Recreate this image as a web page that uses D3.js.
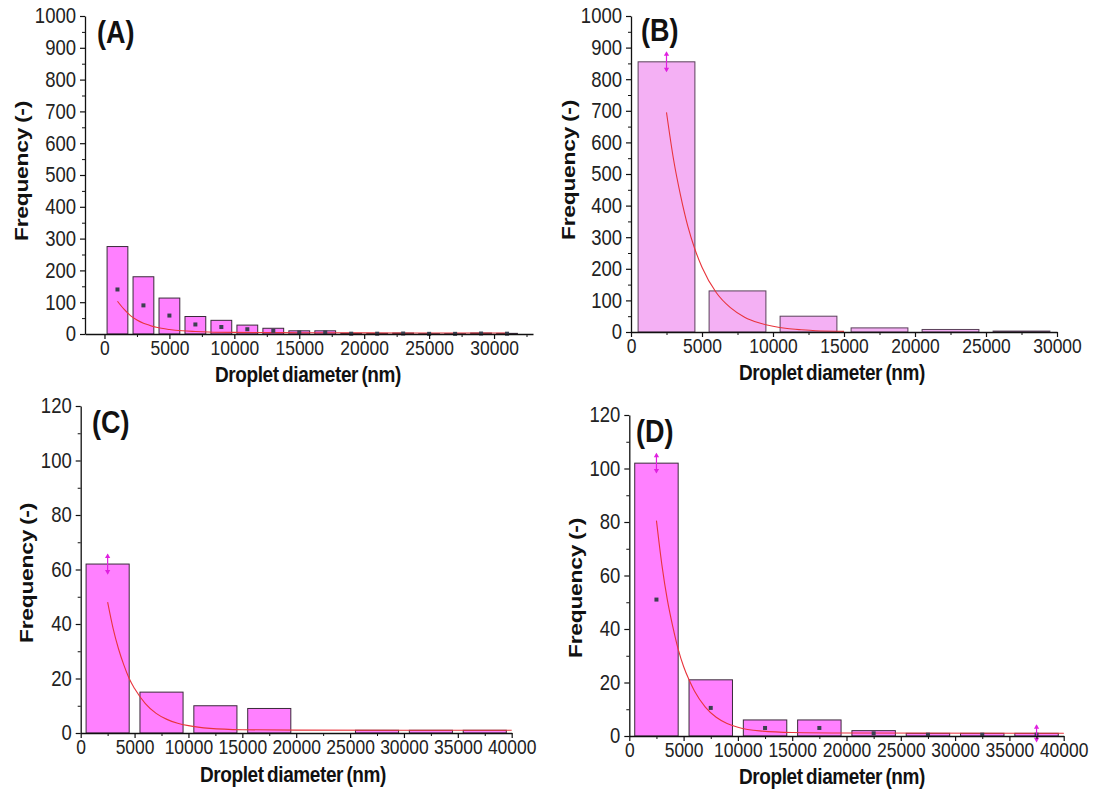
<!DOCTYPE html>
<html><head><meta charset="utf-8">
<script src="https://cdn.jsdelivr.net/npm/d3@7"></script>
<style>
html,body{margin:0;padding:0;background:#fff;}
svg{display:block;font-family:"Liberation Sans",Arial,sans-serif;}
</style></head>
<body><svg id="chart" width="1097" height="789"></svg>
<script>
// ---------- DATA ----------
const panelLabels = ["(A)", "(B)", "(C)", "(D)"];
const xTitle = "Droplet diameter (nm)";
const yTitle = "Frequency (-)";

// Panel A: bin width 2000
const aCenters = [1000,3000,5000,7000,9000,11000,13000,15000,17000,19000,21000,23000,25000,27000,29000,31000];
const aCounts  = [275,180,113,55,43,28,18,10,10,2,2,3,1,1,3,2];
const aDots    = [140,90,58,30,22,15,10,5,5,1,1,1.5,0.5,0.5,1.5,1];
const aFitX    = [1000,1500,2000,2500,3000,3500,4000,5000,6000,7000,8000,10000,12000,15000,20000,25000,31000];
const aFitY    = [103,78,58,44,34,27,21,14,10,8,6.5,5,4.5,4,3.5,3,3];
const aXTicks  = [0,5000,10000,15000,20000,25000,30000];
const aYTicks  = [0,100,200,300,400,500,600,700,800,900,1000];

// Panel B: bin width 5000
const bCenters = [2500,7500,12500,17500,22500,27500];
const bCounts  = [855,130,50,13,8,3];
const bFitX    = [2500,3000,3500,4000,4500,5000,6000,7000,8000,9000,10000,11000,12000,13000,15000];
const bFitY    = [695,545,430,335,262,205,125,77,47,29,18,11,7,4,2];
const bErr     = [[2500,855,30]];
const bXTicks  = [0,5000,10000,15000,20000,25000,30000];
const bYTicks  = [0,100,200,300,400,500,600,700,800,900,1000];

// Panel C
const cCenters = [2500,7500,12500,17500,22500,27500,32500,37500];
const cCounts  = [62,15,10,9,0,1,1,1];
const cFitX    = [2500,3000,3500,4000,4500,5000,6000,7000,8000,9000,10000,12000,15000,20000,40000];
const cFitY    = [48,38.5,31,25,20,16.3,10.8,7.2,5,3.6,2.7,1.7,1.2,1.05,1];
const cErr     = [[2500,62,3.5]];
const cXTicks  = [0,5000,10000,15000,20000,25000,30000,35000,40000];
const cYTicks  = [0,20,40,60,80,100,120];

// Panel D
const dCenters = [2500,7500,12500,17500,22500,27500,32500,37500];
const dCounts  = [102,21,6,6,2,1,1,1];
const dDots    = [51,10.5,3,3,1,0.5,0.5,0.5];
const dFitX    = [2500,3000,3500,4000,4500,5000,5500,6000,7000,8000,9000,10000,12000,15000,20000,40000];
const dFitY    = [80.5,64,51,41,32.5,26,21,16.8,10.8,7,4.7,3.3,1.9,1.3,1.1,1];
const dErr     = [[2500,102,3.5],[37500,1,3]];
const dXTicks  = [0,5000,10000,15000,20000,25000,30000,35000,40000];
const dYTicks  = [0,20,40,60,80,100,120];

// ---------- LAYOUT / STYLE ----------
const SY = 1.15; // vertical stretch of lettering in the original figure
const panels = [
  {label:panelLabels[0], centers:aCenters, counts:aCounts, dots:aDots, fitX:aFitX, fitY:aFitY, err:[],
   xTicks:aXTicks, xMinorStep:2500, yTicks:aYTicks, yMinorStep:50, binW:2000,
   xDomain:[-1500,33000], yDomain:[0,1000], px:[85,533], py:[334,16],
   fill:"#ff80ff", stroke:"#3a2a3a",
   lab:[97,43], xt:[308,382], yt:[21,171]},
  {label:panelLabels[1], centers:bCenters, counts:bCounts, dots:null, fitX:bFitX, fitY:bFitY, err:bErr,
   xTicks:bXTicks, xMinorStep:2500, yTicks:bYTicks, yMinorStep:50, binW:5000,
   xDomain:[0,30000], yDomain:[0,1000], px:[631,1057], py:[332,16],
   fill:"#f4b0f4", stroke:"#5a405a",
   lab:[641,41], xt:[832,380], yt:[568,170]},
  {label:panelLabels[2], centers:cCenters, counts:cCounts, dots:null, fitX:cFitX, fitY:cFitY, err:cErr,
   xTicks:cXTicks, xMinorStep:2500, yTicks:cYTicks, yMinorStep:10, binW:5000,
   xDomain:[0,40000], yDomain:[0,120], px:[80.7,511.7], py:[733,406],
   fill:"#ff80ff", stroke:"#3a2a3a",
   lab:[92,433], xt:[293,782], yt:[26,573]},
  {label:panelLabels[3], centers:dCenters, counts:dCounts, dots:dDots, fitX:dFitX, fitY:dFitY, err:dErr,
   xTicks:dXTicks, xMinorStep:2500, yTicks:dYTicks, yMinorStep:10, binW:5000,
   xDomain:[0,40000], yDomain:[0,120], px:[629.3,1063.7], py:[736,415],
   fill:"#ff80ff", stroke:"#3a2a3a",
   lab:[636,442], xt:[832,784], yt:[575,588]}
];

const svg = d3.select("#chart");

function range(a,b,s){const r=[];for(let v=a;v<=b+1e-9;v+=s)r.push(+v.toFixed(6));return r;}

panels.forEach(p => {
  const g = svg.append("g");
  const x = d3.scaleLinear().domain(p.xDomain).range(p.px);
  const y = d3.scaleLinear().domain(p.yDomain).range(p.py);

  // bars
  const bw = p.binW*0.8;
  g.append("g").selectAll("rect").data(p.centers.map((c,i)=>({c, v:p.counts[i]})).filter(d=>d.v>0))
    .join("rect")
    .attr("x", d=>x(d.c-bw/2))
    .attr("width", d=>x(d.c+bw/2)-x(d.c-bw/2))
    .attr("y", d=>y(d.v))
    .attr("height", d=>y(0)-y(d.v))
    .attr("fill", p.fill)
    .attr("stroke", p.stroke)
    .attr("stroke-width", 1);

  // fit curve
  const line = d3.line().x(d=>x(d[0])).y(d=>y(d[1])).curve(d3.curveMonotoneX);
  g.append("path").datum(p.fitX.map((v,i)=>[v,p.fitY[i]]))
    .attr("d", line).attr("fill","none").attr("stroke","#e8343c").attr("stroke-width",1.1);

  // dots
  if (p.dots) {
    g.append("g").selectAll("rect").data(p.centers.map((c,i)=>({c, v:p.dots[i]})))
      .join("rect")
      .attr("x", d=>x(d.c)-2).attr("y", d=>y(d.v)-2)
      .attr("width",4).attr("height",4)
      .attr("fill","#3c4050");
  }

  // error markers
  p.err.forEach(e => {
    const cx = x(e[0]), yt = y(e[1]+e[2]), yb = y(e[1]-e[2]);
    g.append("line").attr("x1",cx).attr("x2",cx).attr("y1",yt).attr("y2",yb)
      .attr("stroke","#e020e0").attr("stroke-width",1.2);
    g.append("path").attr("d", d3.symbol(d3.symbolTriangle, 12)())
      .attr("transform",`translate(${cx},${yt+2})`).attr("fill","#e020e0");
    g.append("path").attr("d", d3.symbol(d3.symbolTriangle, 12)())
      .attr("transform",`translate(${cx},${yb-2}) rotate(180)`).attr("fill","#e020e0");
  });

  // x axis
  const xAxis = d3.axisBottom(x).tickValues(p.xTicks).tickSize(5).tickSizeOuter(0).tickPadding(1)
    .tickFormat(d3.format("d"));
  const gx = g.append("g").attr("transform",`translate(0,${p.py[0]})`).call(xAxis);
  const xMinor = range(Math.ceil(p.xDomain[0]/p.xMinorStep)*p.xMinorStep, p.xDomain[1], p.xMinorStep)
    .filter(v=>!p.xTicks.includes(v));
  g.append("g").attr("transform",`translate(0,${p.py[0]})`)
    .call(d3.axisBottom(x).tickValues(xMinor).tickSize(3).tickSizeOuter(0).tickFormat(""))
    .select(".domain").remove();

  // y axis
  const yAxis = d3.axisLeft(y).tickValues(p.yTicks).tickSize(5).tickSizeOuter(0).tickPadding(4)
    .tickFormat(d3.format("d"));
  const gy = g.append("g").attr("transform",`translate(${p.px[0]},0)`).call(yAxis);
  const yMinor = range(p.yDomain[0], p.yDomain[1], p.yMinorStep).filter(v=>!p.yTicks.includes(v));
  g.append("g").attr("transform",`translate(${p.px[0]},0)`)
    .call(d3.axisLeft(y).tickValues(yMinor).tickSize(3).tickSizeOuter(0).tickFormat(""))
    .select(".domain").remove();

  [gx, gy].forEach(ax => {
    ax.select(".domain").attr("stroke","#111").attr("stroke-width",1.3);
    ax.selectAll(".tick line").attr("stroke","#111").attr("stroke-width",1.2);
    ax.selectAll(".tick text").attr("fill","#222")
      .attr("font-family",'"Liberation Sans",Arial,sans-serif')
      .attr("transform",`scale(1,${SY})`);
  });
  gx.selectAll(".tick text").attr("font-size",17.5);
  gy.selectAll(".tick text").attr("font-size",18.5);
  g.selectAll(".tick line").attr("stroke","#111");

  // titles
  g.append("text").attr("transform",`translate(${p.xt[0]},${p.xt[1]}) scale(1,${SY})`)
    .attr("text-anchor","middle")
    .attr("font-size",19).attr("font-weight","bold").attr("fill","#111")
    .attr("letter-spacing","-0.4").attr("word-spacing","-1.5").text(xTitle);
  g.append("text").attr("transform",`translate(${p.yt[0]},${p.yt[1]}) scale(1,1.2) rotate(-90)`)
    .attr("text-anchor","middle").attr("dy","0.35em")
    .attr("font-size",19).attr("font-weight","bold").attr("fill","#111")
    .attr("letter-spacing","-0.2").attr("word-spacing","-1").text(yTitle);
  g.append("text").attr("transform",`translate(${p.lab[0]},${p.lab[1]}) scale(1,1.15)`)
    .attr("font-size",27).attr("font-weight","bold").attr("fill","#111").text(p.label);
});
</script></body></html>
